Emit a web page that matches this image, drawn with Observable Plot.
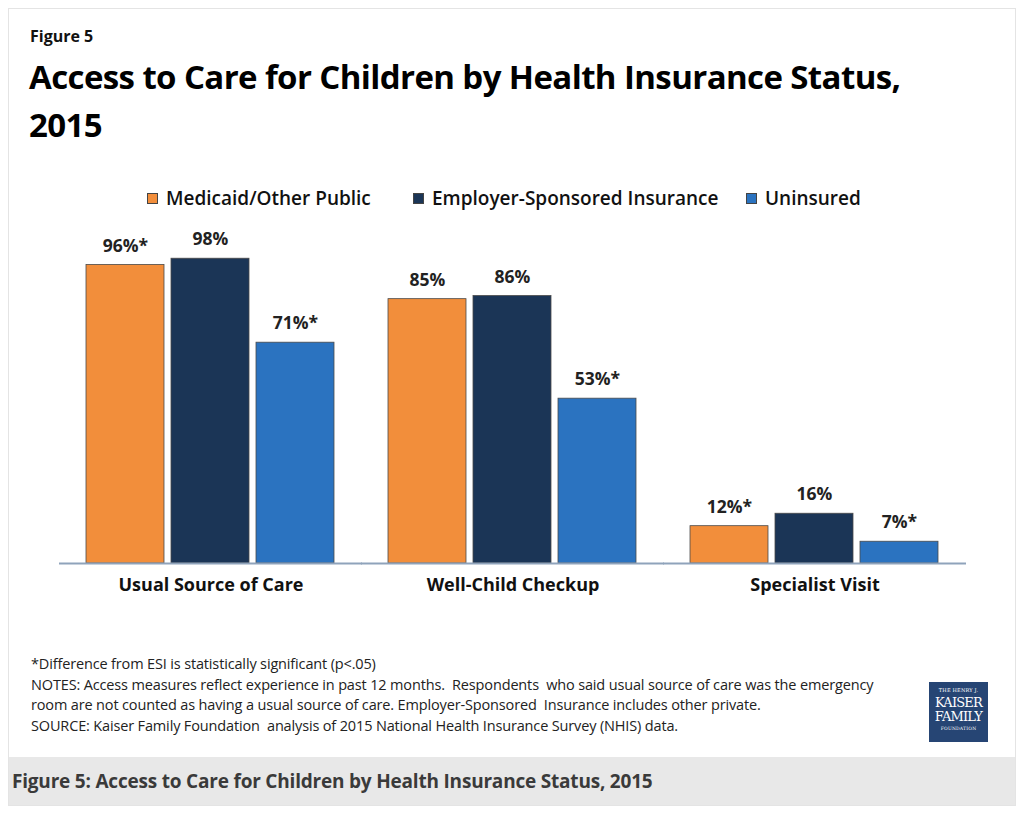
<!DOCTYPE html>
<html>
<head>
<meta charset="utf-8">
<script src="https://cdn.jsdelivr.net/npm/d3@7"></script>
<script src="https://cdn.jsdelivr.net/npm/@observablehq/plot@0.6"></script>
<style>
  html, body { margin: 0; padding: 0; background: #ffffff; width: 1024px; height: 814px; overflow: hidden; }
  #card { position: absolute; left: 8px; top: 8px; width: 1006px; height: 796px; border: 1px solid #e4e4e4; background: #fff; }
  .abs { position: absolute; white-space: nowrap; }
  #fig { left: 30px; top: 25px; font: bold 16px "Open Sans", sans-serif; color: #111; }
  #title { left: 29px; top: 53px; font: bold 33px "Open Sans", sans-serif; color: #000; line-height: 48px; letter-spacing: -0.6px; }
  #legend { left: 0px; top: 185px; width: 1024px; height: 30px; font: 600 19px "Open Sans", sans-serif; color: #111; }
  .item { position: absolute; top: 0; display: flex; align-items: center; }
  .sw { width: 11px; height: 11px; border: 1px solid #444; margin-right: 8px; box-sizing: border-box; }
  #chart { left: 0px; top: 215px; }
  #notes { left: 31px; top: 654px; font: 14.5px "Open Sans", sans-serif; color: #222; line-height: 20.5px; letter-spacing: -0.15px; }
  #logo { left: 929px; top: 682px; width: 59px; height: 60px; background: #264574; color: #fff; font-family: "DejaVu Serif", "Liberation Serif", serif; text-align: center; }
  #band { left: 9px; top: 757px; width: 1006px; height: 48px; background: #e8e8e8; }
  #cap { left: 12px; top: 768px; font: bold 19px "Open Sans", sans-serif; color: #3a3a3a; letter-spacing: -0.2px; }
</style>
</head>
<body>
<div id="card"></div>
<div class="abs" id="fig">Figure 5</div>
<div class="abs" id="title">Access to Care for Children by Health Insurance Status,<br>2015</div>
<div class="abs" id="legend"></div>
<div class="abs" id="chart"></div>
<div class="abs" id="notes">*Difference from ESI is statistically significant (p&lt;.05)<br>NOTES: Access measures reflect experience in past 12 months.&nbsp; Respondents&nbsp; who said usual source of care was the emergency<br>room are not counted as having a usual source of care. Employer-Sponsored&nbsp; Insurance includes other private.<br>SOURCE: Kaiser Family Foundation&nbsp; analysis of 2015 National Health Insurance Survey (NHIS) data.</div>
<div class="abs" id="logo">
  <div style="font-size:5px;margin-top:5px;letter-spacing:0.2px;">THE HENRY J.</div>
  <div style="font-size:13px;line-height:15px;margin-top:2px;letter-spacing:-0.8px;">KAISER</div>
  <div style="font-size:13px;line-height:14px;letter-spacing:-0.8px;">FAMILY</div>
  <div style="font-size:4.5px;margin-top:2px;letter-spacing:0.2px;">FOUNDATION</div>
</div>
<div class="abs" id="band"></div>
<div class="abs" id="cap">Figure 5: Access to Care for Children by Health Insurance Status, 2015</div>
<script>
const categories = ["Usual Source of Care", "Well-Child Checkup", "Specialist Visit"];
const series = ["Medicaid/Other Public", "Employer-Sponsored Insurance", "Uninsured"];
const colors = ["#f28e3b", "#1b3556", "#2b73c0"];
const medicaid = [96, 85, 12];
const esi = [98, 86, 16];
const uninsured = [71, 53, 7];
const medicaidSig = [true, false, true];
const esiSig = [false, false, false];
const uninsuredSig = [true, true, true];

const values = [medicaid, esi, uninsured];
const sigs = [medicaidSig, esiSig, uninsuredSig];
const data = [];
categories.forEach((c, i) => {
  series.forEach((s, j) => {
    data.push({category: c, series: s, value: values[j][i], label: values[j][i] + "%" + (sigs[j][i] ? "*" : "")});
  });
});

// legend
const legend = document.getElementById("legend");
const legendLeft = [147, 413, 746];
series.forEach((s, j) => {
  const it = document.createElement("div");
  it.className = "item";
  it.style.left = legendLeft[j] + "px";
  const sw = document.createElement("div");
  sw.className = "sw";
  sw.style.background = colors[j];
  it.appendChild(sw);
  const t = document.createElement("span");
  t.textContent = s;
  it.appendChild(t);
  legend.appendChild(it);
});

const chart = Plot.plot({
  width: 1024,
  height: 400,
  marginLeft: 79,
  marginRight: 78,
  marginTop: 37,
  marginBottom: 52,
  style: {fontFamily: "Open Sans, sans-serif", background: "transparent", overflow: "visible"},
  fx: {domain: categories, paddingInner: 0.13, paddingOuter: 0, axis: "bottom", label: null, tickSize: 0, tickPadding: 15},
  x: {domain: series, padding: 0.082, axis: null},
  y: {domain: [0, 100], axis: null},
  color: {domain: series, range: colors},
  marks: [
    Plot.barY(data, {fx: "category", x: "series", y: "value", fill: "series", stroke: "#4a4a4a", strokeWidth: 0.8}),
    Plot.ruleY([0], {stroke: "#8fa3bb", strokeWidth: 2, insetLeft: -20, insetRight: -20}),
    Plot.text(data, {fx: "category", x: "series", y: "value", text: "label", dy: -19, fontSize: 17.5, fontWeight: "bold", fill: "#222"})
  ]
});
document.getElementById("chart").appendChild(chart);
chart.querySelectorAll("[aria-label='fx-axis'] text, [aria-label='fx-axis tick label'] text").forEach(t => {
  t.style.fontSize = "18px";
  t.style.fontWeight = "bold";
  t.setAttribute("fill", "#111");
});
</script>
</body>
</html>
